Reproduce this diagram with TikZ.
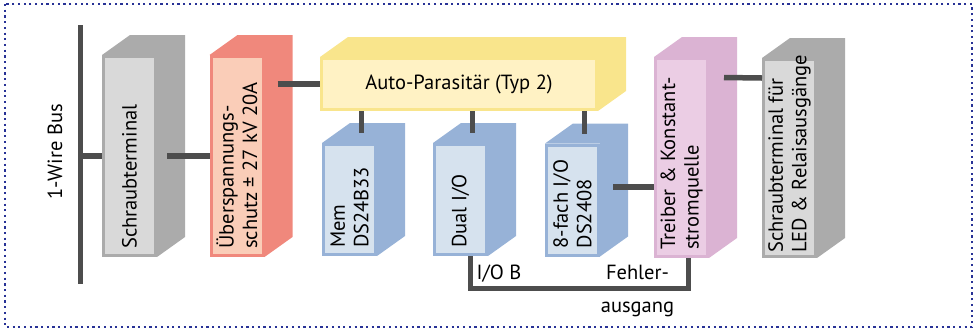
\documentclass[tikz,border=0pt]{standalone}
\usepackage{fontspec}
\setmainfont{PT Sans}

\definecolor{grayside}{RGB}{171,171,171}
\definecolor{grayfront}{RGB}{217,217,217}
\definecolor{redside}{RGB}{240,136,124}
\definecolor{redfront}{RGB}{250,205,184}
\definecolor{yelside}{RGB}{249,229,140}
\definecolor{yelfront}{RGB}{255,242,196}
\definecolor{blueside}{RGB}{151,178,215}
\definecolor{bluefront}{RGB}{214,226,238}
\definecolor{pinkside}{RGB}{219,179,211}
\definecolor{pinkfront}{RGB}{235,205,228}
\definecolor{wirecol}{RGB}{77,77,77}
\definecolor{framecol}{RGB}{40,50,150}

% top and right face of a block behind its front node
\newcommand{\extrude}[2]{%
  \fill[#2] (#1.north west) -- ++(28,20) -- ([shift={(28,20)}]#1.north east)
    -- ([shift={(28,20)}]#1.south east) -- (#1.south east) -- (#1.north east) -- cycle;}

\begin{document}
\begin{tikzpicture}[x=1pt, y=1pt,
  every node/.style={font=\fontsize{20.5}{23.5}\selectfont, text=black, inner sep=0pt},
  front/.style 2 args={draw=#1, fill=#2, line width=3pt},
  tall/.style={minimum width=52pt, minimum height=199pt},
  small/.style={minimum width=52pt, minimum height=110pt},
  vlabel/.style={rotate=90, anchor=west, align=left},
  wire/.style={wirecol, line width=5.5pt}]
  \useasboundingbox (0,0) rectangle (978,-330);
  \draw[framecol, line width=2.4pt, dash pattern=on 2.2pt off 3.5pt] (5,-4) rectangle (972,-327);

  \node[front={grayside}{grayfront}, tall] (term1) at (129.5,-156) {};
  \node[front={redside}{redfront}, tall] (ovp) at (237,-156) {};
  \node[front={yelside}{yelfront}, minimum width=275pt, minimum height=51pt] (auto) at (459,-84) {};
  \node[front={blueside}{bluefront}, small] (mem) at (349.5,-199.5) {};
  \node[front={blueside}{bluefront}, small] (dual) at (460.5,-199.5) {};
  \node[front={blueside}{bluefront}, small] (eight) at (572.5,-200) {};
  \node[front={pinkside}{pinkfront}, minimum width=52pt, minimum height=198pt] (drv) at (681.5,-157.5) {};
  \node[front={grayside}{grayfront}, minimum width=52pt, minimum height=197pt] (term2) at (789.5,-158) {};
  \extrude{term1}{grayside} \extrude{ovp}{redside} \extrude{auto}{yelside}
  \extrude{mem}{blueside} \extrude{dual}{blueside} \extrude{eight}{blueside}
  \extrude{drv}{pinkside} \extrude{term2}{grayside}

  \node at (auto) {Auto-Parasitär (Typ 2)};
  \node[vlabel] (term1-t) at ([yshift=8]term1.south) {Schraubterminal};
  \node[vlabel] (ovp-t) at ([yshift=8]ovp.south) {Überspannungs-\\schutz ± 27 kV 20A};
  \node[vlabel] (mem-t) at ([yshift=8]mem.south) {Mem\\DS24B33};
  \node[vlabel] (dual-t) at ([yshift=8]dual.south) {Dual I/O};
  \node[vlabel] (eight-t) at ([yshift=8]eight.south) {8-fach I/O\\DS2408};
  \node[vlabel] (drv-t) at ([yshift=8]drv.south) {Treiber \& Konstant-\\stromquelle};
  \node[vlabel] (term2-t) at ([yshift=5]term2.south) {Schraubterminal für\\LED \& Relaisausgänge};

  \coordinate (bustop) at (80,-25);
  \coordinate (busbot) at (80,-284);
  \draw[wire, line width=5pt] (bustop) -- (busbot);
  \node[rotate=90] (bus-t) at (55,-152) {1-Wire Bus};

  \draw[wire] (bustop |- term1.west) -- (term1.west);
  \draw[wire] ([xshift=10]term1.east) -- (ovp.west);
  \draw[wire] ([xshift=13]ovp.east |- auto.west) -- (auto.west);
  \foreach \n in {mem,dual,eight}
    \draw[wire] ([xshift=12]\n.north |- auto.south) -- ([shift={(12,10)}]\n.north);
  \draw[wire] ([shift={(13,13)}]eight.east) coordinate (e1) -- (e1 -| drv.west);
  \draw[wire] ([shift={(15,80)}]drv.east) -- ([yshift=80]term2.west);
  \draw[wire] ([xshift=10]dual.south) -- ++(0,-32.5) coordinate (bend) -| ([xshift=7]drv.south);

  \node[anchor=base west] (iob) at ([shift={(16,-23)}]dual.south) {I/O B};
  \node[align=center, anchor=base] (fault) at ([xshift=-44, yshift=-23.5]bend -| drv.south) {Fehler-\\[9.5pt]ausgang};
\end{tikzpicture}
\end{document}
